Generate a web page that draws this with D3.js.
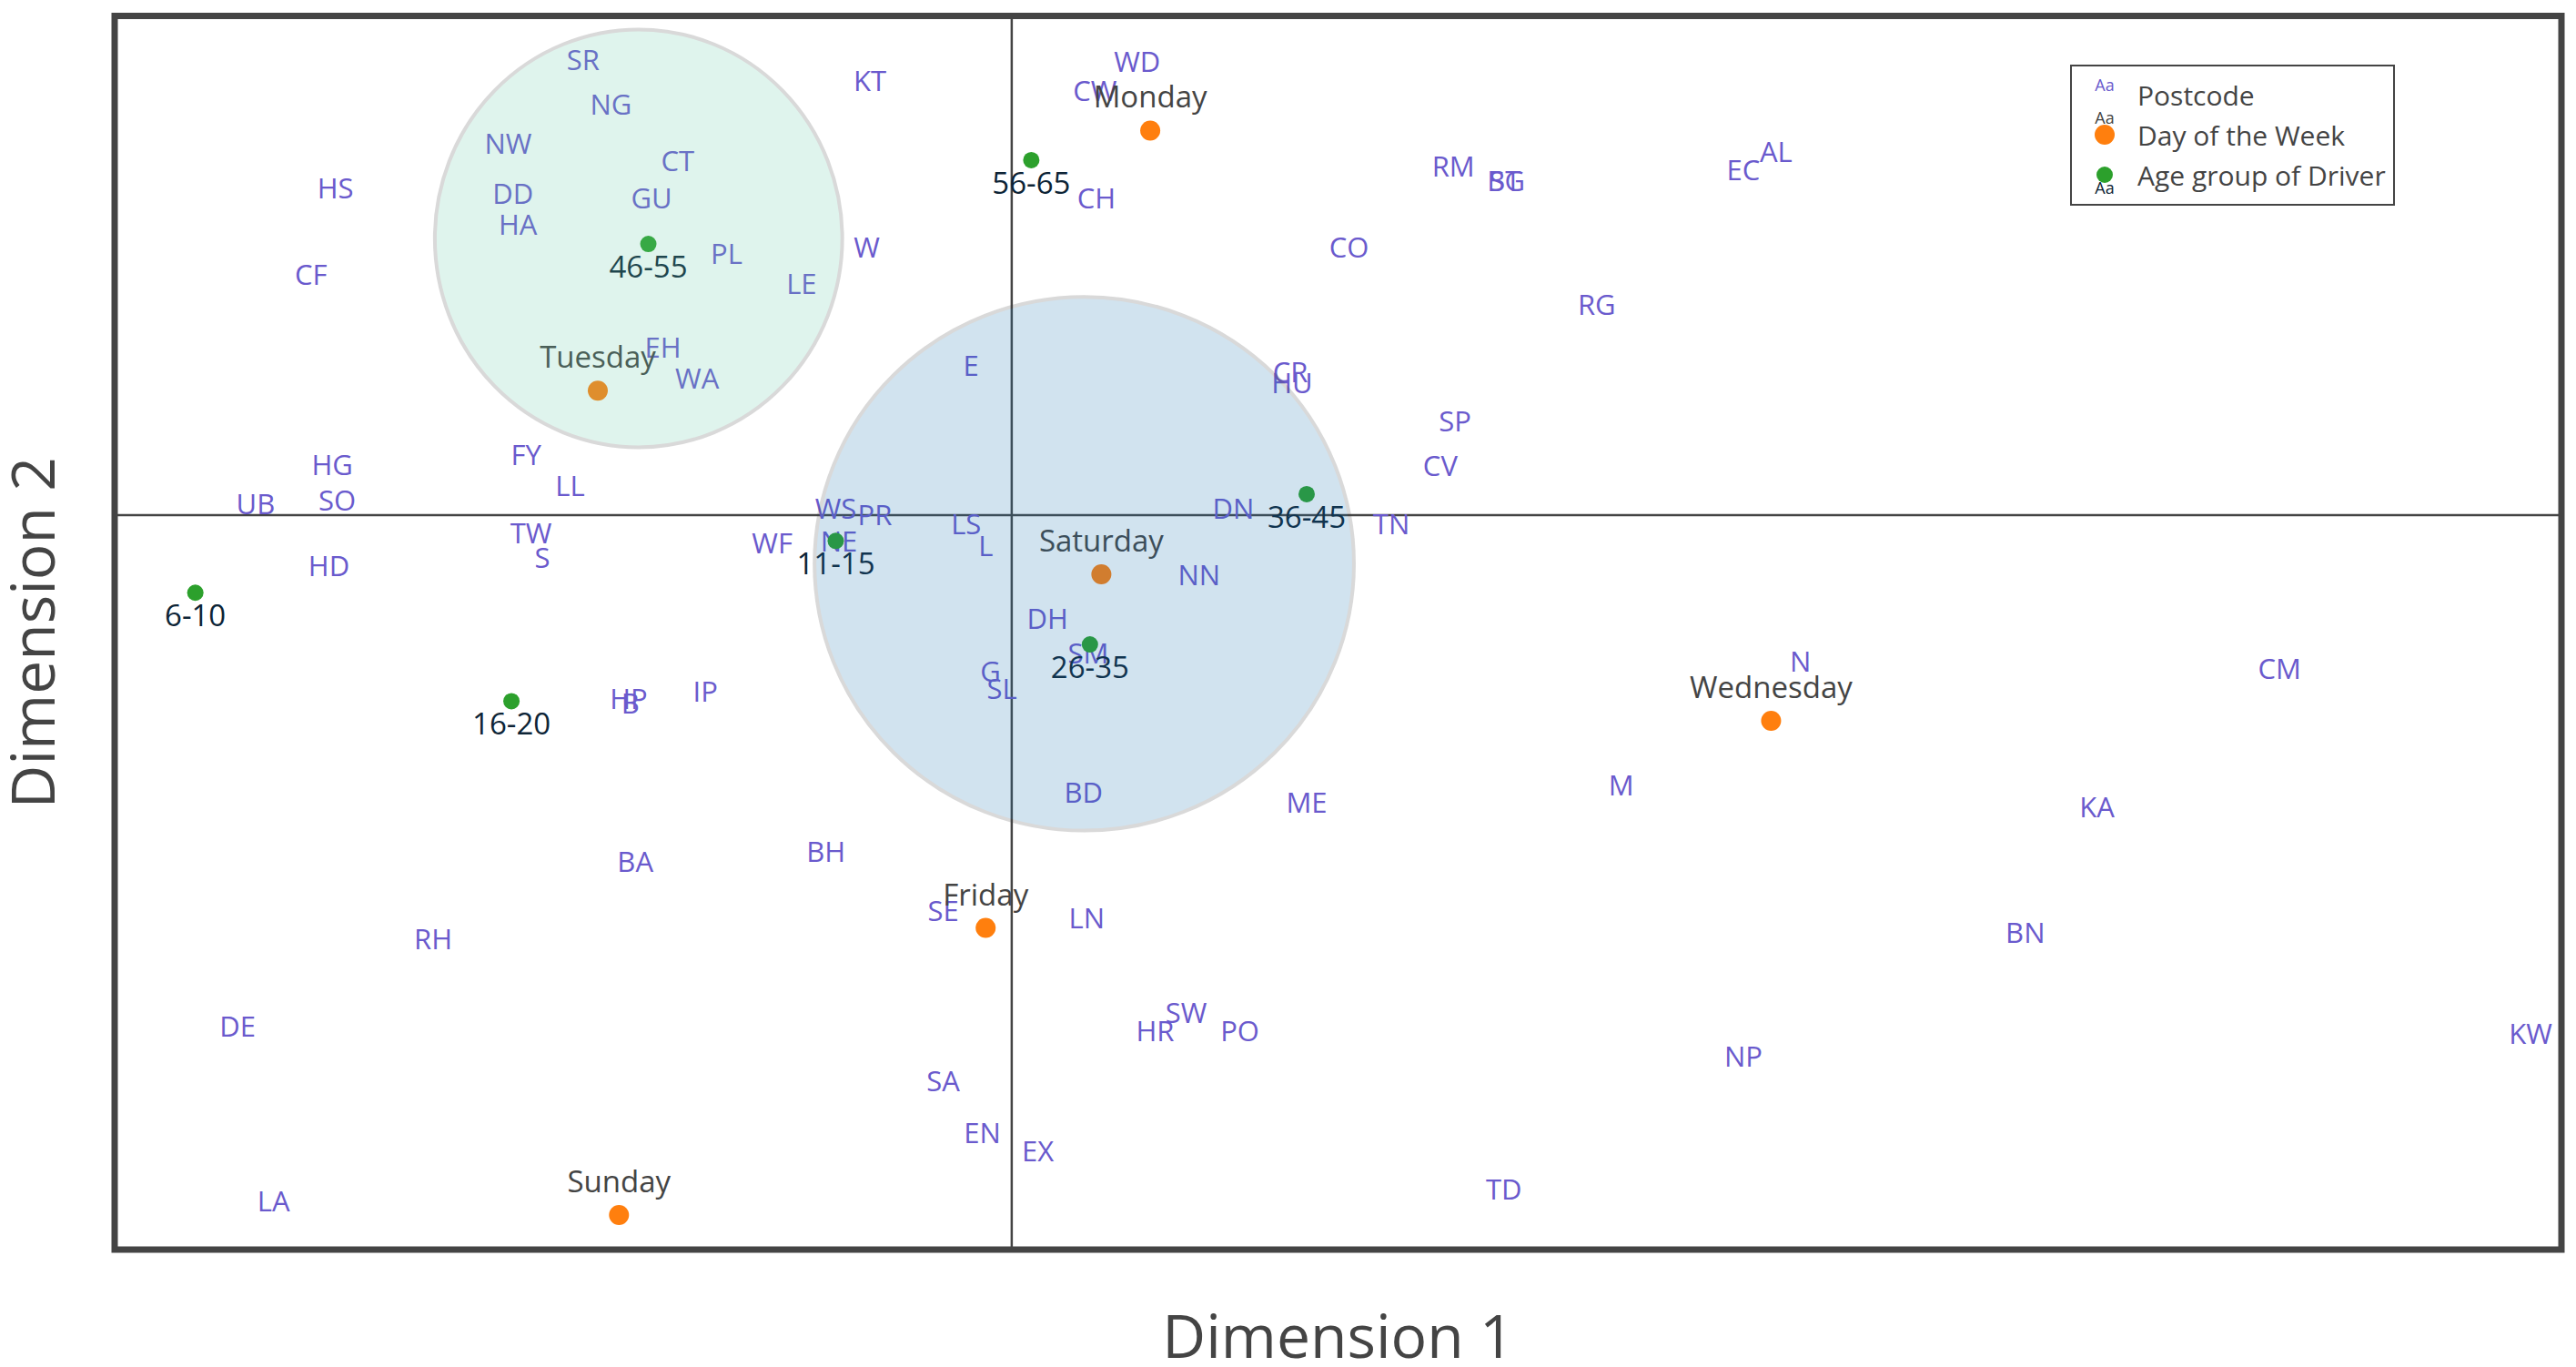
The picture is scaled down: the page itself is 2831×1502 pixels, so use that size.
<!DOCTYPE html>
<html>
<head>
<meta charset="utf-8">
<script src="https://cdn.jsdelivr.net/npm/d3@7/dist/d3.min.js"></script>
<style>
    body { margin: 0; background: #fff; }
    text { font-family: "Open Sans", "Noto Sans", sans-serif; }
</style>
</head>
<body>
<div id="chart"></div>
<script>
// Postcode positions (text only)
const postcodes = ["SR", "NG", "NW", "CT", "DD", "GU", "HA", "PL", "LE", "HS", "CF", "KT", "W", "EH", "WA", "E",
    "WD", "CW", "CH", "RM", "SG", "BT", "EC", "AL", "CO", "RG", "CR", "HU", "SP", "CV", "TN", "DN",
    "HG", "SO", "UB", "FY", "LL", "TW", "S", "HD", "WS", "PR", "WF", "NE", "LS", "L", "NN", "DH",
    "SM", "G", "SL", "HP", "B", "IP", "N", "CM", "M", "KA", "BD", "ME", "BA", "BH", "SE", "LN",
    "RH", "BN", "DE", "SW", "HR", "PO", "NP", "KW", "SA", "EN", "EX", "TD", "LA"];
const postcodeX = [-0.263, -0.246, -0.309, -0.205, -0.306, -0.221, -0.303, -0.175, -0.129, -0.415, -0.430, -0.087, -0.089, -0.214, -0.193, -0.025,
    0.077, 0.051, 0.052, 0.271, 0.304, 0.302, 0.449, 0.469, 0.207, 0.359, 0.171, 0.172, 0.272, 0.263, 0.233, 0.136,
    -0.417, -0.414, -0.464, -0.298, -0.271, -0.295, -0.288, -0.419, -0.108, -0.084, -0.147, -0.106, -0.028, -0.016, 0.115, 0.022,
    0.047, -0.013, -0.006, -0.235, -0.234, -0.188, 0.484, 0.778, 0.374, 0.666, 0.044, 0.181, -0.231, -0.114, -0.042, 0.046,
    -0.355, 0.622, -0.475, 0.107, 0.088, 0.140, 0.449, 0.932, -0.042, -0.018, 0.016, 0.302, -0.453];
const postcodeY = [0.369, 0.333, 0.301, 0.287, 0.261, 0.257, 0.236, 0.212, 0.188, 0.265, 0.195, 0.352, 0.217, 0.136, 0.111, 0.121,
    0.368, 0.344, 0.257, 0.283, 0.271, 0.271, 0.280, 0.295, 0.217, 0.171, 0.116, 0.107, 0.076, 0.040, -0.007, 0.005,
    0.041, 0.012, 0.009, 0.049, 0.024, -0.015, -0.035, -0.041, 0.005, 0.000, -0.023, -0.021, -0.007, -0.025, -0.049, -0.084,
    -0.112, -0.127, -0.141, -0.149, -0.153, -0.143, -0.119, -0.125, -0.219, -0.237, -0.225, -0.233, -0.281, -0.273, -0.321, -0.327,
    -0.344, -0.339, -0.415, -0.404, -0.419, -0.419, -0.439, -0.421, -0.459, -0.501, -0.516, -0.547, -0.557];

// Day of the week (marker + label on top)
const days = ["Monday", "Tuesday", "Saturday", "Wednesday", "Friday", "Sunday"];
const dayX = [0.085, -0.254, 0.055, 0.466, -0.016, -0.241];
const dayY = [0.312, 0.101, -0.048, -0.167, -0.335, -0.568];

// Age group of driver (marker + label below)
const ages = ["56-65", "46-55", "36-45", "11-15", "6-10", "26-35", "16-20"];
const ageX = [0.012, -0.223, 0.181, -0.108, -0.501, 0.048, -0.307];
const ageY = [0.288, 0.220, 0.017, -0.021, -0.063, -0.105, -0.151];

// Highlight circles (data coordinates)
const clusterX0 = [-0.354, -0.121];
const clusterX1 = [-0.104, 0.210];
const clusterY0 = [0.055, -0.256];
const clusterY1 = [0.394, 0.177];
const clusterFill = ["#66cdaa", "#1f77b4"];

const xDomain = [-0.5505, 0.951];
const yDomain = [-0.596, 0.405];

const width = 2831, height = 1502;
const margin = {left: 126, right: 16, top: 17.5, bottom: 129};

const postcodeColor = "#6a5acd";
const dayColor = "#ff7f0e";
const ageColor = "#2ca02c";
const ageTextColor = "#0d2436";

const svg = d3.select("#chart").append("svg")
    .attr("width", width)
    .attr("height", height);

const x = d3.scaleLinear().domain(xDomain).range([margin.left, width - margin.right]);
const y = d3.scaleLinear().domain(yDomain).range([height - margin.bottom, margin.top]);

// zero lines
svg.append("line")
    .attr("x1", x(0)).attr("x2", x(0))
    .attr("y1", y(yDomain[0])).attr("y2", y(yDomain[1]))
    .attr("stroke", "#444").attr("stroke-width", 2.5);
svg.append("line")
    .attr("x1", x(xDomain[0])).attr("x2", x(xDomain[1]))
    .attr("y1", y(0)).attr("y2", y(0))
    .attr("stroke", "#444").attr("stroke-width", 2.5);

// postcodes
svg.append("g").selectAll("text")
    .data(postcodes)
    .enter().append("text")
    .attr("x", (d, i) => x(postcodeX[i]))
    .attr("y", (d, i) => y(postcodeY[i]))
    .attr("dy", "0.36em")
    .attr("text-anchor", "middle")
    .style("font-size", "31px")
    .style("fill", postcodeColor)
    .text(d => d);

// days
const dayG = svg.append("g");
dayG.selectAll("circle")
    .data(days)
    .enter().append("circle")
    .attr("cx", (d, i) => x(dayX[i]))
    .attr("cy", (d, i) => y(dayY[i]))
    .attr("r", 11)
    .style("fill", dayColor);
dayG.selectAll("text")
    .data(days)
    .enter().append("text")
    .attr("x", (d, i) => x(dayX[i]))
    .attr("y", (d, i) => y(dayY[i]) - 25)
    .attr("text-anchor", "middle")
    .style("font-size", "33px")
    .style("fill", "#444")
    .text(d => d);

// age groups
const ageG = svg.append("g");
ageG.selectAll("circle")
    .data(ages)
    .enter().append("circle")
    .attr("cx", (d, i) => x(ageX[i]))
    .attr("cy", (d, i) => y(ageY[i]))
    .attr("r", 9)
    .style("fill", ageColor);
ageG.selectAll("text")
    .data(ages)
    .enter().append("text")
    .attr("x", (d, i) => x(ageX[i]))
    .attr("y", (d, i) => y(ageY[i]) + 37)
    .attr("text-anchor", "middle")
    .style("font-size", "33px")
    .style("fill", ageTextColor)
    .text(d => d);

// circles drawn above the points, semi transparent
svg.append("g").selectAll("ellipse")
    .data(clusterFill)
    .enter().append("ellipse")
    .attr("cx", (d, i) => (x(clusterX0[i]) + x(clusterX1[i])) / 2)
    .attr("cy", (d, i) => (y(clusterY0[i]) + y(clusterY1[i])) / 2)
    .attr("rx", (d, i) => Math.abs(x(clusterX1[i]) - x(clusterX0[i])) / 2)
    .attr("ry", (d, i) => Math.abs(y(clusterY1[i]) - y(clusterY0[i])) / 2)
    .style("fill", d => d)
    .style("stroke", "#444")
    .style("stroke-width", 4)
    .style("opacity", 0.2);

// frame
svg.append("rect")
    .attr("x", x(xDomain[0])).attr("y", y(yDomain[1]))
    .attr("width", x(xDomain[1]) - x(xDomain[0]))
    .attr("height", y(yDomain[0]) - y(yDomain[1]))
    .style("fill", "none")
    .style("stroke", "#444")
    .style("stroke-width", 7);

// axis titles
svg.append("text")
    .attr("x", (x(xDomain[0]) + x(xDomain[1])) / 2)
    .attr("y", 1492)
    .attr("text-anchor", "middle")
    .style("font-size", "66px")
    .style("fill", "#444")
    .text("Dimension 1");

const midY = (y(yDomain[0]) + y(yDomain[1])) / 2;
svg.append("text")
    .attr("transform", "translate(60," + midY + ") rotate(-90)")
    .attr("text-anchor", "middle")
    .style("font-size", "66px")
    .style("fill", "#444")
    .text("Dimension 2");

// legend
const legend = svg.append("g").attr("transform", "translate(2276,72)");
legend.append("rect")
    .attr("width", 355).attr("height", 153)
    .style("fill", "#fff")
    .style("stroke", "#444")
    .style("stroke-width", 2);

const legendItems = ["Postcode", "Day of the Week", "Age group of Driver"];
legend.selectAll("text.item")
    .data(legendItems)
    .enter().append("text")
    .attr("class", "item")
    .attr("x", 73)
    .attr("y", (d, i) => 44 + i * 44)
    .style("font-size", "30px")
    .style("fill", "#444")
    .text(d => d);

// legend symbols
legend.append("text").attr("x", 37).attr("y", 28).attr("text-anchor", "middle")
    .style("font-size", "18px").style("fill", postcodeColor).text("Aa");
legend.append("text").attr("x", 37).attr("y", 64).attr("text-anchor", "middle")
    .style("font-size", "18px").style("fill", "#444").text("Aa");
legend.append("circle").attr("cx", 37).attr("cy", 76).attr("r", 11).style("fill", dayColor);
legend.append("circle").attr("cx", 37).attr("cy", 120).attr("r", 9).style("fill", ageColor);
legend.append("text").attr("x", 37).attr("y", 141).attr("text-anchor", "middle")
    .style("font-size", "18px").style("fill", ageTextColor).text("Aa");
</script>
</body>
</html>
